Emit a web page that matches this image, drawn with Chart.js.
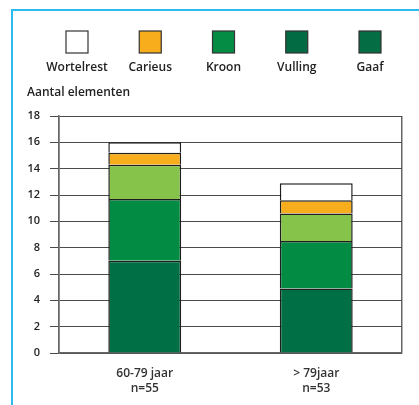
<!DOCTYPE html>
<html>
<head>
<meta charset="utf-8">
<script src="https://cdn.jsdelivr.net/npm/chart.js@4/dist/chart.umd.min.js"></script>
<style>
  html, body { margin: 0; padding: 0; background: #fff; }
  #wrap { position: relative; width: 419px; height: 405px; }
  #frame { position: absolute; left: 11px; top: 9px; right: 0; bottom: 0;
           border-left: 2px solid #2bbcef; border-top: 2px solid #2bbcef; pointer-events: none; }
</style>
</head>
<body>
<div id="wrap">
  <canvas id="grafiek" width="419" height="405"></canvas>
  <div id="frame"></div>
</div>
<script>
// leeftijdsgroepen
const categorieen = [['60-79 jaar', 'n=55'], ['> 79jaar', 'n=53']];

// gemiddeld aantal elementen per toestand (van onder naar boven gestapeld)
const gaaf = [7.0, 4.9];
const vulling = [4.7, 3.6];
const kroon = [2.6, 2.1];
const carieus = [0.9, 1.0];
const wortelrest = [0.8, 1.3];

const yTicks = [0, 2, 4, 6, 8, 10, 12, 14, 16, 18];

// legenda zoals in de brochure (volgorde links naar rechts)
const legendaNamen = ['Wortelrest', 'Carieus', 'Kroon', 'Vulling', 'Gaaf'];
const legendaKleuren = ['#ffffff', '#f8ad1d', '#048c45', '#036b43', '#056d44'];

const FONT = '"Open Sans", "DejaVu Sans", sans-serif';

// legenda met het blokje boven de tekst + y-as titel
const legendaPlugin = {
  id: 'legenda',
  afterDraw(chart) {
    const ctx = chart.ctx;
    ctx.save();
    const start = 77, stap = 73.25, box = 22;
    legendaNamen.forEach((naam, i) => {
      const cx = start + i * stap;
      ctx.fillStyle = legendaKleuren[i];
      ctx.fillRect(cx - box / 2, 31, box, box);
      ctx.strokeStyle = '#333';
      ctx.lineWidth = 1.2;
      ctx.strokeRect(cx - box / 2, 31, box, box);
      ctx.fillStyle = '#222';
      ctx.font = '600 12px ' + FONT;
      ctx.textAlign = 'center';
      ctx.textBaseline = 'middle';
      ctx.fillText(naam, cx, 68);
    });
    ctx.textAlign = 'left';
    ctx.font = '600 12px ' + FONT;
    ctx.fillText('Aantal elementen', 27, 93);
    ctx.restore();
  }
};

const gridKleur = '#4a4a4a';

new Chart(document.getElementById('grafiek'), {
  type: 'bar',
  data: {
    labels: categorieen,
    datasets: [
      { label: 'Gaaf', data: gaaf, backgroundColor: '#006f45' },
      { label: 'Vulling', data: vulling, backgroundColor: '#028c43' },
      { label: 'Kroon', data: kroon, backgroundColor: '#85c34a' },
      { label: 'Carieus', data: carieus, backgroundColor: '#f8ad1d' },
      { label: 'Wortelrest', data: wortelrest, backgroundColor: '#ffffff' }
    ].map(d => Object.assign(d, {
      borderColor: '#1e1e1e',
      borderWidth: 1.5,
      categoryPercentage: 1,
      barPercentage: 0.425
    }))
  },
  options: {
    responsive: false,
    animation: false,
    layout: { padding: { left: 12, right: 17, top: 116, bottom: 0 } },
    plugins: { legend: { display: false }, tooltip: { enabled: false } },
    scales: {
      x: {
        stacked: true,
        grid: {
          color: ctx => ctx.index === 1 ? 'rgba(0,0,0,0)' : '#666',
          lineWidth: 1.5,
          drawTicks: false
        },
        border: { display: true, color: '#666', width: 1.5 },
        ticks: {
          color: '#333',
          font: { family: FONT, size: 12, weight: '600', lineHeight: 1.25 },
          padding: 13,
          maxRotation: 0
        },
        afterFit: s => { s.height = 52; }
      },
      y: {
        stacked: true,
        min: 0,
        max: 18,
        afterBuildTicks: s => { s.ticks = yTicks.map(v => ({ value: v })); },
        grid: { color: gridKleur, lineWidth: 1, tickLength: 9 },
        border: { display: true, color: '#666', width: 1.5 },
        ticks: {
          color: '#222',
          font: { family: FONT, size: 11, weight: '600' },
          padding: 10
        },
        afterFit: s => { s.width = 47; }
      }
    }
  },
  plugins: [legendaPlugin]
});
</script>
</body>
</html>
